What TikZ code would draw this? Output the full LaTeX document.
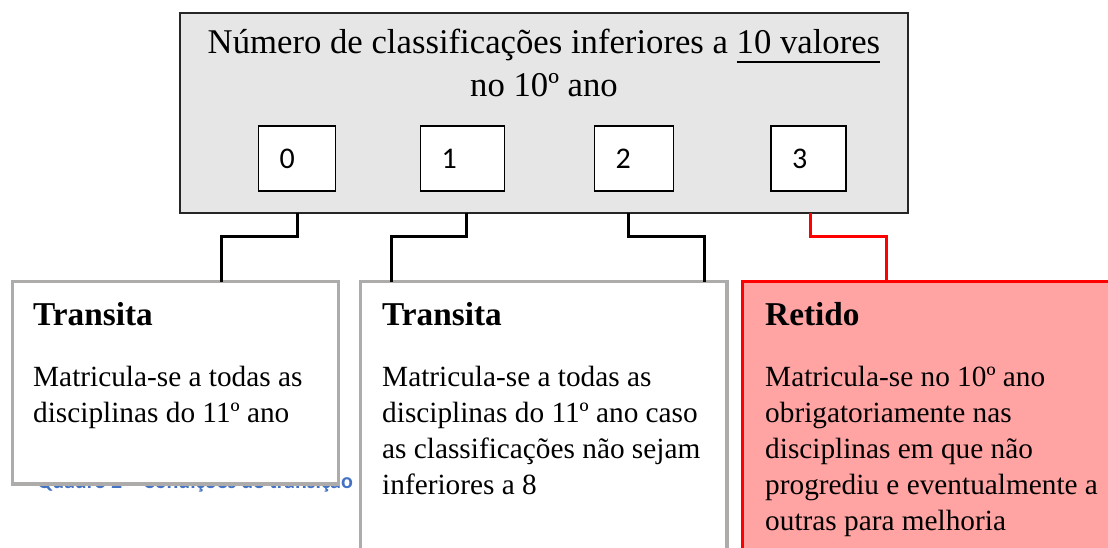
\documentclass[tikz,border=0pt]{standalone}
\usepackage{fontspec}
\setmainfont{Liberation Serif}
\newfontfamily\calibri{Carlito}
\usetikzlibrary{calc}
\usetikzlibrary{positioning}
\definecolor{fundo}{RGB}{230,230,230}
\definecolor{borda}{RGB}{174,171,171}
\definecolor{rosa}{RGB}{255,163,163}
\definecolor{azul}{RGB}{68,114,196}
\newcommand{\sublinhado}[1]{\setbox0\hbox{#1}\rlap{\rule[-9pt]{\wd0}{2pt}}\box0}
\tikzset{
	quadro/.style={
		rectangle,
		draw=black!85, line width=1.5pt,
		fill=fundo,
		anchor=north west,
		inner sep=0pt, outer sep=0pt},
	numero/.style={
		rectangle,
		draw=black, line width=1.5pt,
		fill=white,
		minimum height=65pt,
		anchor=north west,
		inner sep=0pt, outer sep=0pt},
	digito/.style={anchor=west, inner sep=0pt, font=\calibri\fontsize{30}{34}\selectfont},
	caixa/.style={
		rectangle,
		draw=borda, line width=3.5pt,
		fill=white,
		anchor=north west,
		inner sep=0pt, outer sep=0pt},
	retido/.style={caixa, draw=red, fill=rosa},
	titulo/.style={anchor=base, inner sep=0pt, font=\fontsize{34.7}{42}\selectfont},
	cabeca/.style={anchor=base west, inner sep=0pt, font=\bfseries\fontsize{33.3}{40}\selectfont},
	corpo/.style={anchor=north west, inner sep=0pt, align=left, font=\fontsize{29.3}{36}\selectfont},
	legenda/.style={anchor=base east, inner sep=0pt, text=azul, font=\calibri\bfseries\fontsize{22}{26}\selectfont},
	ramo/.style={draw, line width=3pt},
}

\begin{document}
\begin{tikzpicture}
		[x=1pt, y=-1pt]
		\useasboundingbox (0,0) rectangle (1108,547);
		\clip (0,0) rectangle (1108,547);
		% quadro principal
		\node[quadro, minimum width=728pt, minimum height=200pt] (quadro) at (180,13) {};
		\node[titulo] (linha1) at (544,53.5) {Número de classificações inferiores a \sublinhado{10 valores}};
		\node[titulo] (linha2) at (544,96) {no 10º ano};
		\node[numero, minimum width=77pt] (zero) at (258.5,126) {};
		\node[numero, minimum width=84pt] (um) at (420.5,126) {};
		\node[numero, minimum width=79pt] (dois) at (594.5,126) {};
		\node[numero, minimum width=75pt] (tres) at (771,126) {};
		\node[digito] (d0) at ([xshift=21pt]zero.west) {0};
		\node[digito] (d1) at ([xshift=21pt]um.west) {1};
		\node[digito] (d2) at ([xshift=21pt]dois.west) {2};
		\node[digito] (d3) at ([xshift=21pt]tres.west) {3};
		
		% legenda escondida
		\node[legenda] (quadro2) at (353,488) {Quadro 2 – Condições de transição};
		
		% caixas de baixo
		\node[caixa, minimum width=326pt, minimum height=202.5pt] (caixaA) at (12.5,281.5) {};
		\node[caixa, minimum width=366.5pt, minimum height=330pt] (caixaB) at (360.5,281.5) {};
		\node[retido, minimum width=400pt, minimum height=330pt] (caixaC) at (742.5,281.5) {};
		\node[cabeca] (transitaA) at (33,325) {Transita};
		\node[cabeca] (transitaB) at (382,325) {Transita};
		\node[cabeca] (retidoC) at (765,325) {Retido};
		\node[corpo] (textoA) at (33,366) {Matricula-se a todas as\\disciplinas do 11º ano};
		\node[corpo] (textoB) at (382,366) {Matricula-se a todas as\\disciplinas do 11º ano caso\\as classificações não sejam\\inferiores a 8};
		\node[corpo] (textoC) at (765,366) {Matricula-se no 10º ano\\obrigatoriamente nas\\disciplinas em que não\\progrediu e eventualmente a\\outras para melhoria};
		
		% ligacoes
		\draw[ramo] (zero |- quadro.south) -- ++(0,23.5) -| ($(caixaA.north west)+(208.5,0)$);
		\draw[ramo] ([xshift=3.5pt]um.center |- quadro.south) -- ++(0,23.5) -| ($(caixaB.north west)+(30.5,0)$);
		\draw[ramo] ([xshift=-6pt]dois.center |- quadro.south) -- ++(0,23.5) -| ($(caixaB.north west)+(343.5,0)$);
		\draw[ramo, red] ([xshift=1.5pt]tres.center |- quadro.south) -- ++(0,23.5) -| ($(caixaC.north west)+(143.5,0)$);
		
\end{tikzpicture}
\end{document}
